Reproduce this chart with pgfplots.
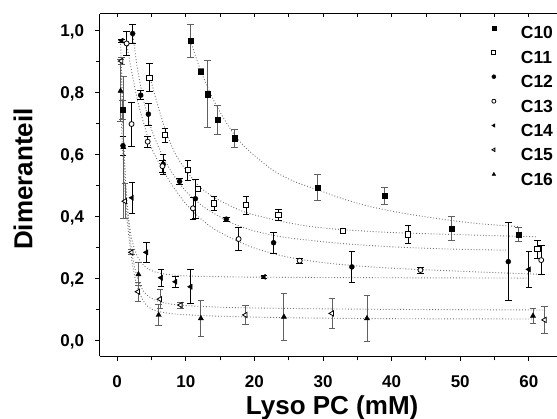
\documentclass[border=0pt]{standalone}
\usepackage{fontspec}
\setmainfont{Liberation Sans}
\usepackage{pgfplots}
\pgfplotsset{compat=1.18}
\definecolor{fitgray}{gray}{0.45}
\definecolor{bargray}{gray}{0.38}
\begin{document}
\begin{tikzpicture}
\pgfplotsset{
  errs/.style={error bars/.cd, y dir=both, y explicit,
    error bar style={line width=0.8pt, color=#1},
    error mark options={rotate=90, mark size=3.3pt, line width=0.8pt, color=#1}},
  fit/.style={forget plot, color=fitgray, dotted, line width=0.9pt, smooth, tension=0.5, mark=none},
}
\begin{axis}[
  scale only axis, width=457pt, height=342.5pt,
  xmin=-2.5, xmax=64.1, ymin=-0.053, ymax=1.052,
  axis lines*=left,
  axis line style={line width=1pt},
  tick align=outside,
  xtick={0,10,...,60}, minor x tick num=1,
  ytick={0,0.2,0.4,0.6,0.8,1.0}, minor y tick num=1,
  major tick length=5pt, minor tick length=4pt,
  every tick/.style={line width=0.9pt, black},
  /pgf/number format/assume math mode=true,
  ticklabel style={font=\fontsize{17}{17}\selectfont\bfseries},
  yticklabel style={/pgf/number format/.cd, fixed, fixed zerofill, precision=1, use comma, /tikz/.cd,
     anchor=east, inner sep=0pt, xshift=-10.7pt, text height=12.2pt, text depth=0pt},
  xticklabel style={anchor=north, inner sep=0pt, yshift=-13.5pt, text height=12.2pt, text depth=0pt},
  xlabel={Lyso PC (mM)}, ylabel={Dimeranteil},
  label style={font=\fontsize{26}{26}\selectfont\bfseries},
  xlabel style={at={(axis description cs:0.508,0)}, anchor=base, yshift=-58.5pt},
  ylabel style={at={(axis description cs:-0.1685,0.518)}, anchor=center},
  legend style={draw=none, fill=none, inner sep=0pt, outer sep=0pt,
     at={(axis description cs:0.9912,0.9658)}, anchor=north east,
     row sep=11.7pt, column sep=25pt,
     font=\fontsize{17.5}{17.5}\selectfont\bfseries,
     nodes={inner sep=0pt, text height=12.6pt, text depth=0pt}},
  legend cell align=left,
  legend image code/.code={\draw[mark repeat=2,mark phase=2,#1,mark size=2pt] plot coordinates {(-2pt,4.5pt)(0pt,4.5pt)(2pt,4.5pt)};},
]
% fitted curves
\addplot[fit] coordinates {(10.7,0.965)(12,0.88)(13.5,0.80)(15,0.735)(17,0.665)(19,0.615)(22.7,0.548)(26,0.51)(29.2,0.485)(33,0.455)(37,0.43)(42,0.408)(48,0.388)(53,0.375)(58.5,0.366)};
\addplot[fit] coordinates {(4.7,0.86)(5.5,0.79)(7,0.68)(8.5,0.6)(10.3,0.54)(12,0.495)(14,0.462)(16.5,0.433)(19,0.41)(23.5,0.385)(28,0.367)(33,0.356)(40,0.347)(50,0.34)(61.3,0.333)};
\addplot[fit] coordinates {(2.26,0.99)(3,0.87)(4,0.76)(5,0.68)(6.5,0.6)(8,0.54)(10,0.48)(12,0.44)(14,0.41)(17,0.375)(20,0.352)(24,0.333)(28,0.322)(33,0.311)(40,0.301)(48,0.294)(56.7,0.29)};
\addplot[fit] coordinates {(1.38,0.957)(2,0.88)(3,0.77)(4,0.69)(5,0.62)(6.5,0.555)(8,0.5)(10,0.44)(12,0.395)(14,0.36)(17,0.325)(20,0.297)(24,0.272)(28,0.256)(33,0.243)(40,0.232)(50,0.222)(61.8,0.212)};
\addplot[fit] coordinates {(0.5,0.965)(0.7,0.8)(0.9,0.66)(1.2,0.52)(1.6,0.41)(2,0.34)(2.5,0.295)(3,0.268)(3.7,0.245)(4.5,0.23)(5.5,0.22)(7.2,0.212)(10,0.207)(13.5,0.205)(20,0.203)(40,0.201)(60,0.2)};
\addplot[fit] coordinates {(0.6,0.9)(0.8,0.75)(1,0.62)(1.3,0.48)(1.7,0.37)(2.1,0.29)(2.6,0.23)(3.2,0.185)(4,0.153)(5,0.135)(6.5,0.122)(9,0.113)(15,0.106)(25,0.102)(40,0.099)(62.3,0.097)};
\addplot[fit] coordinates {(0.5,0.8)(0.7,0.66)(1,0.53)(1.4,0.4)(2,0.28)(2.6,0.2)(3.2,0.155)(4,0.12)(5,0.1)(6.5,0.09)(9,0.083)(15,0.077)(25,0.072)(40,0.069)(60.6,0.068)};
% data
\addplot[only marks, mark=square*, mark size=2.6pt, black, errs=bargray] table[row sep=\\, y error=e] {
x y e\\ 0.8 0.742 0.03\\ 10.7 0.965 0.054\\ 12.2 0.866 0.009\\ 13.2 0.793 0.108\\ 14.65 0.710 0.048\\ 17.1 0.651 0.029\\ 29.2 0.492 0.043\\ 38.95 0.465 0.027\\ 48.7 0.360 0.038\\ 58.5 0.341 0.024\\};
\addlegendentry{C10}
\addplot[only marks, mark=square*, mark size=2.6pt, black, mark options={fill=white, line width=0.8pt}, errs=black] table[row sep=\\, y error=e] {
x y e\\ 4.7 0.847 0.046\\ 7.0 0.661 0.022\\ 10.3 0.548 0.032\\ 11.8 0.487 0.008\\ 14.1 0.441 0.023\\ 18.8 0.435 0.028\\ 23.5 0.405 0.018\\ 32.9 0.352 0.008\\ 42.4 0.341 0.028\\ 61.25 0.293 0.030\\};
\addlegendentry{C11}
\addplot[only marks, mark=*, mark size=2.5pt, black, errs=black] table[row sep=\\, y error=e] {
x y e\\ 0.85 0.627 0.03\\ 2.26 0.989 0.031\\ 3.43 0.790 0.015\\ 4.55 0.729 0.035\\ 6.7 0.567 0.032\\ 9.1 0.512 0.010\\ 11.4 0.456 0.062\\ 15.9 0.390 0.006\\ 22.8 0.314 0.034\\ 34.2 0.236 0.050\\ 57.0 0.253 0.126\\};
\addlegendentry{C12}
\addplot[only marks, mark=*, mark size=2.5pt, black, mark options={fill=white, line width=0.8pt}, errs=black] table[row sep=\\, y error=e] {
x y e\\ 1.38 0.957 0.040\\ 2.1 0.697 0.071\\ 4.45 0.640 0.018\\ 6.6 0.561 0.020\\ 11.05 0.425 0.035\\ 17.7 0.326 0.038\\ 26.6 0.256 0.008\\ 44.2 0.226 0.010\\ 61.8 0.258 0.047\\};
\addlegendentry{C13}
\addplot[only marks, mark=triangle*, mark size=3pt, black, mark options={rotate=90}, errs=black] table[row sep=\\, y error=e] {
x y e\\ 0.66 0.966 0.005\\ 2.16 0.459 0.050\\ 4.25 0.283 0.032\\ 6.4 0.201 0.028\\ 8.5 0.188 0.017\\ 10.7 0.172 0.055\\ 21.4 0.204 0.005\\ 60.0 0.228 0.059\\};
\addlegendentry{C14}
\addplot[only marks, mark=triangle*, mark size=3pt, black, mark options={rotate=90, fill=white, line width=0.8pt}, errs=bargray] table[row sep=\\, y error=e] {
x y e\\ 0.6 0.900 0.012\\ 1.14 0.448 0.057\\ 2.1 0.283 0.008\\ 3.05 0.156 0.030\\ 6.25 0.132 0.030\\ 9.25 0.113 0.010\\ 18.7 0.081 0.032\\ 31.3 0.086 0.047\\ 62.3 0.065 0.045\\};
\addlegendentry{C15}
\addplot[only marks, mark=triangle*, mark size=3pt, black, errs=bargray] table[row sep=\\, y error=e] {
x y e\\ 0.5 0.804 0.10\\ 0.9 0.622 0.23\\ 3.1 0.212 0.037\\ 6.05 0.081 0.033\\ 12.2 0.070 0.059\\ 24.3 0.075 0.075\\ 36.4 0.070 0.075\\ 60.6 0.078 0.024\\};
\addlegendentry{C16}
\end{axis}
\begin{axis}[
  scale only axis, width=457pt, height=342.5pt,
  xmin=-2.5, xmax=64.1, ymin=-0.053, ymax=1.052,
  axis x line*=top, axis y line=none,
  axis line style={line width=1pt},
  xtick={0,10,...,60}, minor x tick num=1, xticklabels={},
  tick align=inside, major tick length=3pt, minor tick length=3pt,
  every tick/.style={line width=0.8pt, black},
]
\addplot[draw=none, forget plot] coordinates {(0,0)};
\end{axis}
\pgfresetboundingbox
\useasboundingbox (-100pt,-62.5pt) rectangle (457pt,356.5pt);
\end{tikzpicture}
\end{document}
